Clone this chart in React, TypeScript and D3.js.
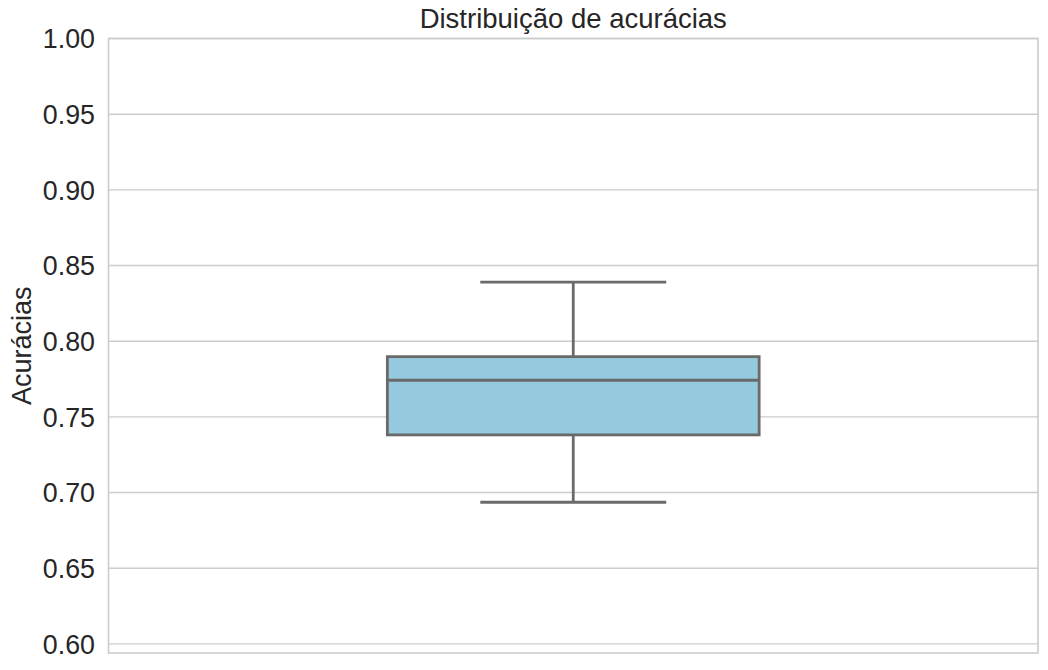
import { scaleLinear, range } from "d3";

// summary of the accuracy distribution (one box)
const categories = ["acurácias"];
const whiskerLow = [0.6936];
const q1 = [0.7381];
const median = [0.7742];
const q3 = [0.7898];
const whiskerHigh = [0.839];
const yTicks = range(0, 9).map((i) => +(0.6 + i * 0.05).toFixed(2));

const W = 1048;
const H = 670;
const margin = { top: 38.5, right: 10, bottom: 17, left: 108.5 };
const font = "Arial, 'Liberation Sans', sans-serif";
const textColor = "#262626";
const gridColor = "#cccccc";
const lineColor = "#6a6a6a";
const boxFill = "#95c9de";

export default function App() {
  const innerW = W - margin.left - margin.right;
  const x = scaleLinear().domain([-0.5, 0.5]).range([margin.left, margin.left + innerW]);
  const y = scaleLinear().domain([0.594, 1.0]).range([H - margin.bottom, margin.top]);
  const boxWidth = 0.4;
  const capWidth = 0.2;

  return (
    <svg
      width={W}
      height={H}
      style={{ position: "absolute", left: 0, top: 0, background: "#fff" }}
      fontFamily={font}
    >
      {yTicks.map((t) => (
        <g key={t}>
          <line x1={x(-0.5)} x2={x(0.5)} y1={y(t)} y2={y(t)} stroke={gridColor} strokeWidth={1.4} />
          <text
            x={x(-0.5) - 13.5}
            y={y(t)}
            dy="0.36em"
            textAnchor="end"
            fontSize={26.8}
            fill={textColor}
          >
            {t.toFixed(2)}
          </text>
        </g>
      ))}

      {categories.map((c, i) => {
        const cx = x(i);
        return (
          <g key={c} stroke={lineColor} strokeWidth={2.8}>
            <line x1={cx} x2={cx} y1={y(q1[i])} y2={y(whiskerLow[i])} />
            <line x1={cx} x2={cx} y1={y(q3[i])} y2={y(whiskerHigh[i])} />
            <line
              x1={x(i - capWidth / 2)}
              x2={x(i + capWidth / 2)}
              y1={y(whiskerLow[i])}
              y2={y(whiskerLow[i])}
            />
            <line
              x1={x(i - capWidth / 2)}
              x2={x(i + capWidth / 2)}
              y1={y(whiskerHigh[i])}
              y2={y(whiskerHigh[i])}
            />
            <rect
              x={x(i - boxWidth / 2)}
              y={y(q3[i])}
              width={x(i + boxWidth / 2) - x(i - boxWidth / 2)}
              height={y(q1[i]) - y(q3[i])}
              fill={boxFill}
            />
            <line
              x1={x(i - boxWidth / 2)}
              x2={x(i + boxWidth / 2)}
              y1={y(median[i])}
              y2={y(median[i])}
            />
          </g>
        );
      })}

      <rect
        x={margin.left}
        y={margin.top}
        width={innerW}
        height={H - margin.bottom - margin.top}
        fill="none"
        stroke={gridColor}
        strokeWidth={1.6}
      />

      <text
        x={(margin.left + margin.left + innerW) / 2}
        y={28}
        textAnchor="middle"
        fontSize={27.5}
        fill={textColor}
      >
        Distribuição de acurácias
      </text>
      <text
        transform={`translate(31, ${(margin.top + H - margin.bottom) / 2}) rotate(-90)`}
        textAnchor="middle"
        fontSize={27}
        fill={textColor}
      >
        Acurácias
      </text>
    </svg>
  );
}
